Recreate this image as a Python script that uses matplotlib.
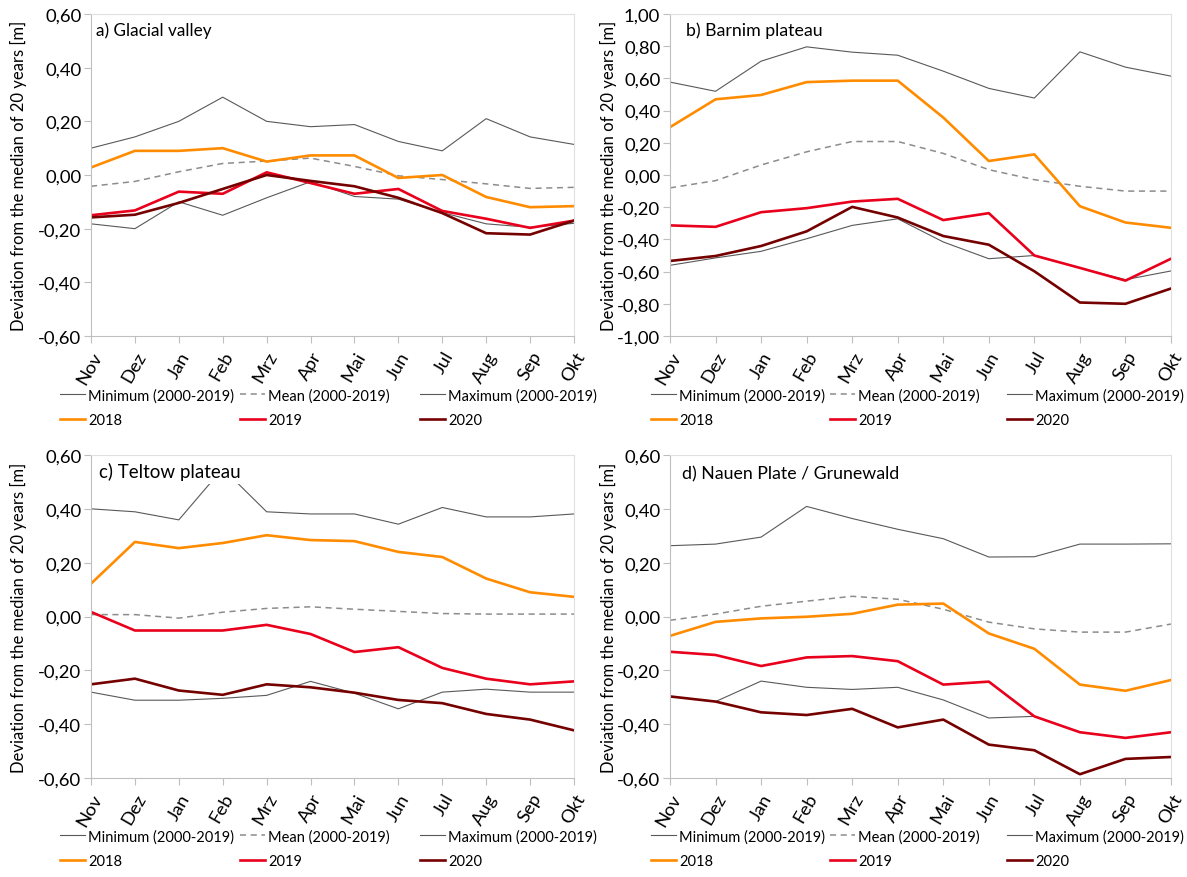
import matplotlib
matplotlib.use('Agg')
import matplotlib.pyplot as plt
from matplotlib.legend import Legend
from matplotlib.ticker import FuncFormatter, MultipleLocator

plt.rcParams['font.family'] = ['Lato', 'DejaVu Sans']

months = ['Nov', 'Dez', 'Jan', 'Feb', 'Mrz', 'Apr', 'Mai', 'Jun', 'Jul', 'Aug', 'Sep', 'Okt']

# a) Glacial valley
a_min = [-0.182, -0.20, -0.10, -0.15, -0.085, -0.025, -0.08, -0.09, -0.14, -0.182, -0.195, -0.18]
a_mean = [-0.042, -0.024, 0.012, 0.043, 0.052, 0.063, 0.032, -0.003, -0.017, -0.033, -0.05, -0.046]
a_max = [0.10, 0.142, 0.20, 0.29, 0.20, 0.18, 0.188, 0.125, 0.09, 0.21, 0.142, 0.114]
a_2018 = [0.028, 0.09, 0.09, 0.10, 0.05, 0.073, 0.073, -0.011, 0.0, -0.082, -0.12, -0.116]
a_2019 = [-0.15, -0.132, -0.062, -0.07, 0.01, -0.03, -0.07, -0.052, -0.134, -0.163, -0.197, -0.17]
a_2020 = [-0.158, -0.148, -0.104, -0.052, 0.0, -0.022, -0.042, -0.085, -0.142, -0.217, -0.222, -0.17]

# b) Barnim plateau
b_min = [-0.561, -0.515, -0.474, -0.396, -0.313, -0.272, -0.416, -0.52, -0.50, -0.577, -0.65, -0.596]
b_mean = [-0.08, -0.035, 0.062, 0.144, 0.208, 0.208, 0.134, 0.033, -0.029, -0.07, -0.10, -0.10]
b_max = [0.577, 0.52, 0.707, 0.796, 0.763, 0.744, 0.645, 0.538, 0.478, 0.765, 0.67, 0.614]
b_2018 = [0.297, 0.47, 0.497, 0.577, 0.586, 0.586, 0.357, 0.087, 0.128, -0.194, -0.295, -0.328]
b_2019 = [-0.313, -0.322, -0.231, -0.206, -0.165, -0.148, -0.28, -0.237, -0.50, -0.577, -0.656, -0.52]
b_2020 = [-0.534, -0.503, -0.441, -0.35, -0.198, -0.264, -0.379, -0.433, -0.598, -0.792, -0.80, -0.705]

# c) Teltow plateau
c_min = [-0.281, -0.311, -0.311, -0.304, -0.293, -0.241, -0.285, -0.343, -0.281, -0.27, -0.281, -0.281]
c_mean = [0.007, 0.007, -0.006, 0.016, 0.03, 0.036, 0.027, 0.019, 0.011, 0.009, 0.009, 0.009]
c_max = [0.40, 0.389, 0.359, 0.55, 0.389, 0.381, 0.381, 0.343, 0.405, 0.37, 0.37, 0.381]
c_2018 = [0.122, 0.277, 0.254, 0.273, 0.302, 0.284, 0.28, 0.24, 0.221, 0.141, 0.09, 0.073]
c_2019 = [0.017, -0.052, -0.052, -0.052, -0.031, -0.065, -0.132, -0.114, -0.191, -0.231, -0.252, -0.241]
c_2020 = [-0.252, -0.231, -0.275, -0.291, -0.252, -0.263, -0.283, -0.31, -0.322, -0.362, -0.383, -0.423]

# d) Nauen Plate / Grunewald
d_min = [-0.297, -0.316, -0.24, -0.263, -0.271, -0.263, -0.31, -0.377, -0.371, -0.43, -0.451, -0.43]
d_mean = [-0.014, 0.009, 0.038, 0.057, 0.075, 0.064, 0.027, -0.021, -0.046, -0.058, -0.058, -0.028]
d_max = [0.263, 0.269, 0.295, 0.409, 0.364, 0.324, 0.289, 0.221, 0.222, 0.269, 0.269, 0.27]
d_2018 = [-0.072, -0.02, -0.007, -0.001, 0.01, 0.044, 0.048, -0.063, -0.12, -0.253, -0.276, -0.236]
d_2019 = [-0.131, -0.143, -0.184, -0.152, -0.147, -0.166, -0.253, -0.242, -0.371, -0.43, -0.451, -0.43]
d_2020 = [-0.297, -0.316, -0.356, -0.366, -0.343, -0.412, -0.383, -0.476, -0.497, -0.586, -0.529, -0.522]

panels = [
    ('a) Glacial valley', (a_min, a_mean, a_max, a_2018, a_2019, a_2020), (-0.6, 0.6)),
    ('b) Barnim plateau', (b_min, b_mean, b_max, b_2018, b_2019, b_2020), (-1.0, 1.0)),
    ('c) Teltow plateau', (c_min, c_mean, c_max, c_2018, c_2019, c_2020), (-0.6, 0.6)),
    ('d) Nauen Plate / Grunewald', (d_min, d_mean, d_max, d_2018, d_2019, d_2020), (-0.6, 0.6)),
]

W, H = 1187, 878
# axes boxes in pixels: left, top, right, bottom
boxes = [(91, 15, 574, 337), (670, 15, 1171, 337), (91, 456, 574, 779), (670, 456, 1171, 779)]
# title: x, y centre, size, box pad (the text boxes differ a bit per panel)
titles = [(96, 31, 12.3, 1.5), (686, 31, 12.8, 1.5), (99, 472, 13.5, 3), (682, 474, 12.8, 1.5)]
legend_rows = [389, 389, 830, 830]
legend_cols = [[60, 240, 420], [651, 830, 1007], [60, 240, 420], [651, 830, 1007]]
ylabel_x = [18, 608, 18, 608]

c_gray = '#595959'
c_mean = '#8c8c8c'
c_orange = '#ff8c00'
c_red = '#e8001c'
c_dark = '#750000'

fig = plt.figure(figsize=(W / 100, H / 100), dpi=100)

fmt = FuncFormatter(lambda v, p: ('%.2f' % v).replace('.', ','))

for i, (title, series, ylim) in enumerate(panels):
    l, t, r, b = boxes[i]
    ax = fig.add_axes([l / W, 1 - b / H, (r - l) / W, (b - t) / H])
    mn, me, mx, y18, y19, y20 = series
    x = range(len(months))
    h_min, = ax.plot(x, mn, color=c_gray, lw=0.8, label='Minimum (2000-2019)')
    h_mean, = ax.plot(x, me, color=c_mean, lw=1.1, ls=(0, (4, 3)), label='Mean (2000-2019)')
    h_max, = ax.plot(x, mx, color=c_gray, lw=0.8, label='Maximum (2000-2019)')
    h18, = ax.plot(x, y18, color=c_orange, lw=1.9, label='2018')
    h19, = ax.plot(x, y19, color=c_red, lw=1.9, label='2019')
    h20, = ax.plot(x, y20, color=c_dark, lw=1.9, label='2020')

    ax.set_xlim(0, 11)
    ax.set_ylim(*ylim)
    ax.yaxis.set_major_locator(MultipleLocator(0.2))
    ax.yaxis.set_major_formatter(fmt)
    ax.set_xticks(list(x))
    ax.set_xticklabels(months, rotation=60, ha='right', rotation_mode='anchor')
    ax.tick_params(axis='both', direction='out', length=5, width=0.8, color='#bfbfbf',
                   labelsize=13.3, pad=2)
    ax.tick_params(axis='x', pad=4)
    for s in ['left', 'bottom']:
        ax.spines[s].set_color('#bfbfbf')
        ax.spines[s].set_linewidth(0.8)
    for s in ['top', 'right']:
        ax.spines[s].set_color('#e0e0e0')
        ax.spines[s].set_linewidth(0.8)

    tx, ty, ts, tp = titles[i]
    ax.text(tx / W, 1 - ty / H, title, transform=fig.transFigure, fontsize=ts,
            va='center', ha='left', zorder=5,
            bbox=dict(facecolor='white', edgecolor='none', pad=tp))

    fig.text(ylabel_x[i] / W, 1 - (t + b) / 2 / H, 'Deviation from the median of 20 years [m]',
             rotation=90, ha='center', va='center', fontsize=12)

    cols = [[h_min, h18], [h_mean, h19], [h_max, h20]]
    for j, hs in enumerate(cols):
        leg = Legend(ax, hs, [h.get_label() for h in hs], loc='upper left', frameon=False,
                     fontsize=10.5, bbox_to_anchor=(legend_cols[i][j] / W, 1 - legend_rows[i] / H),
                     bbox_transform=fig.transFigure, borderpad=0, borderaxespad=0,
                     handlelength=1.7, handletextpad=0.25, labelspacing=0.72)
        ax.add_artist(leg)

fig.savefig('out.png', dpi=100)
